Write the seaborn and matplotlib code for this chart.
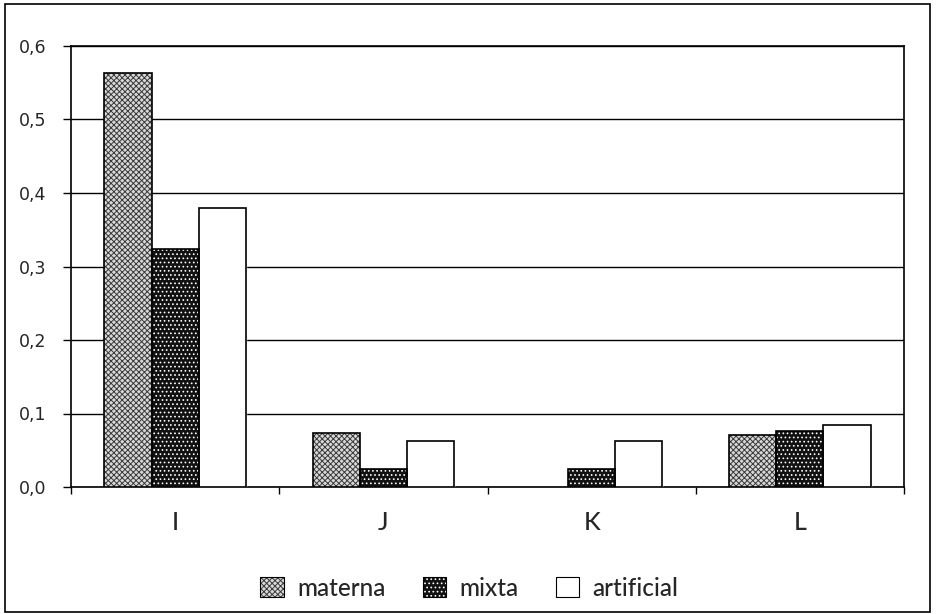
import numpy as np
import pandas as pd
import matplotlib
matplotlib.use("Agg")
import matplotlib.pyplot as plt
import seaborn as sns
from matplotlib.patches import Patch, Rectangle
from matplotlib.ticker import FuncFormatter, MultipleLocator
from matplotlib.legend_handler import HandlerTuple

categories = ["I", "J", "K", "L"]
series = ["materna", "mixta", "artificial"]
materna = [0.563, 0.073, np.nan, 0.071]
mixta = [0.324, 0.025, 0.025, 0.076]
artificial = [0.380, 0.062, 0.062, 0.085]

rows = []
for name, vals in zip(series, [materna, mixta, artificial]):
    for c, v in zip(categories, vals):
        rows.append({"cat": c, "serie": name, "val": v})
df = pd.DataFrame(rows)

sns.set_style("white")
plt.rcParams["font.family"] = ["DejaVu Sans"]
plt.rcParams["hatch.linewidth"] = 0.7

fig = plt.figure(figsize=(9.39, 6.14), dpi=100)
ax = fig.add_axes([71 / 939, 1 - 487 / 614, (904 - 71) / 939, (487 - 46) / 614])

styles = {
    "materna": dict(face="#d8d8d8", hatch="xxxxxx", hcol="#3a3a3a"),
    "mixta": dict(face="#111111", hatch="....", hcol="#ffffff"),
    "artificial": dict(face="#ffffff", hatch=None, hcol="black"),
}
palette = {s: styles[s]["face"] for s in series}

sns.barplot(data=df, x="cat", y="val", hue="serie", order=categories,
            hue_order=series, palette=palette, width=0.68, gap=0,
            saturation=1, legend=False, ax=ax, zorder=3)

for s, cont in zip(series, ax.containers):
    st = styles[s]
    for bar in cont:
        if st["hatch"]:
            bar.set_hatch(st["hatch"])
            bar.set_edgecolor(st["hcol"])
            bar.set_linewidth(0)
        x, y = bar.get_xy()
        w, h = bar.get_width(), bar.get_height()
        if np.isfinite(h) and h > 0:
            ax.add_patch(Rectangle((x, y), w, h, fill=False, edgecolor="black",
                                   linewidth=1.2, zorder=4))

ax.set_ylim(0, 0.6)
ax.set_xlim(-0.5, len(categories) - 0.5)
ax.yaxis.set_major_locator(MultipleLocator(0.1))
ax.yaxis.set_major_formatter(FuncFormatter(lambda v, p: f"{v:.1f}".replace(".", ",")))
ax.grid(axis="y", color="black", linewidth=1.0, zorder=0)
ax.set_axisbelow(True)
for sp in ax.spines.values():
    sp.set_visible(True)
    sp.set_color("black")
    sp.set_linewidth(1.2)

ax.set_xlabel("")
ax.set_ylabel("")
ax.tick_params(axis="y", which="major", direction="out", length=6, width=1,
               color="black", pad=12, labelsize=12.5, left=True)
ax.set_xticks(range(len(categories)))
ax.set_xticklabels(categories, fontsize=18, family=["Lato", "DejaVu Sans"],
                   fontweight="medium")
ax.set_xticks(np.arange(-0.5, len(categories), 1.0), minor=True)
ax.tick_params(axis="x", which="major", length=0, pad=17)
ax.tick_params(axis="x", which="minor", direction="out", length=5, width=1,
               color="black", bottom=True)

handles = []
for s in series:
    st = styles[s]
    outline = Patch(facecolor="none", edgecolor="black", linewidth=0.8)
    if st["hatch"]:
        fill = Patch(facecolor=st["face"], edgecolor=st["hcol"],
                     hatch=st["hatch"], linewidth=0)
    else:
        fill = Patch(facecolor=st["face"], edgecolor="none", linewidth=0)
    handles.append((fill, outline))
leg = fig.legend(handles=handles, labels=series, loc="center",
                 bbox_to_anchor=(0.5, 1 - 588 / 614),
                 handler_map={tuple: HandlerTuple(ndivide=1, pad=0)},
                 ncol=3, frameon=False,
                 prop={"family": ["Lato", "DejaVu Sans"], "size": 17.5, "weight": "medium"},
                 handlelength=0.95, handleheight=0.85, handletextpad=0.55,
                 columnspacing=1.55)

fig.patches.append(Rectangle((5 / 939, 2 / 614), 925 / 939, 608 / 614, fill=False,
                             edgecolor="black", linewidth=1.2, transform=fig.transFigure,
                             figure=fig))

fig.savefig("out.png", dpi=100)
